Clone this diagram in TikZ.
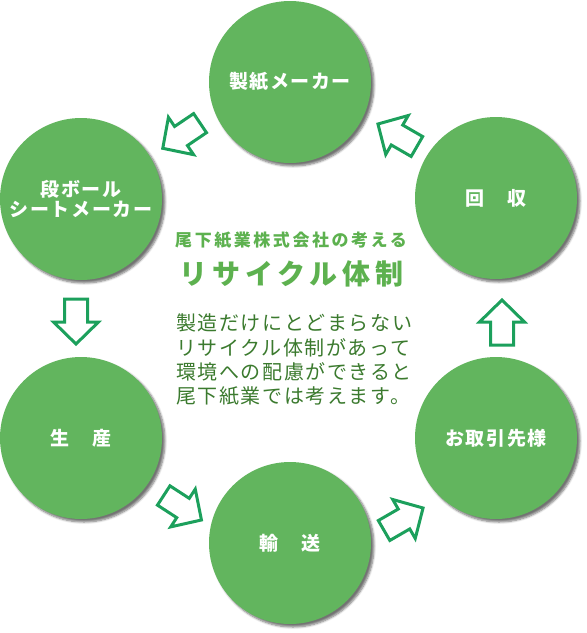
\documentclass[tikz,border=0pt]{standalone}
\usepackage{fontspec}
\setmainfont{Noto Sans CJK JP}
\newfontfamily\stagefont{Noto Sans CJK JP}[LetterSpace=8]
\newfontfamily\titlefont{Noto Sans CJK JP}[LetterSpace=15]
\newfontfamily\bigfont{Noto Sans CJK JP}[LetterSpace=18]
\newfontfamily\bodyfont{Noto Sans CJK JP}[LetterSpace=8]
\usetikzlibrary{shadows.blur}

\definecolor{circlegreen}{RGB}{98,181,94}
\definecolor{arrowgreen}{RGB}{28,160,92}
\definecolor{titlegreen}{RGB}{93,177,79}
\definecolor{textgreen}{RGB}{59,122,46}

\tikzset{
  stage/.style={circle, fill=circlegreen, minimum size=162pt, inner sep=0pt,
    text=white, align=center, font=\stagefont\bfseries\fontsize{19}{22}\selectfont,
    blur shadow={shadow xshift=3pt, shadow yshift=-3pt, shadow blur steps=6, shadow opacity=55}},
  arrowline/.style={draw=arrowgreen, fill=white, line width=3pt, line join=miter},
  pics/cyclearrow/.style={code={
    \draw[arrowline] (-23,-11.5) -- (0,-11.5) -- (0,-22.5) -- (22,0)
      -- (0,22.5) -- (0,11.5) -- (-23,11.5) -- cycle;}},
  bodytext/.style={anchor=west, inner sep=0pt, text=textgreen,
    font=\bodyfont\fontsize{20}{24}\selectfont},
}

\begin{document}
\begin{tikzpicture}[x=1pt, y=-1pt]
    \useasboundingbox (0,0) rectangle (587,633);
    % the six stages of the cycle
    \node[stage] (seishi) at (290,82) {製紙メーカー};
    \node[stage] (danboru) at (81,199) {段ボール\\[-2pt]シートメーカー};
    \node[stage] (seisan) at (81,438) {生　産};
    \node[stage] (yuso) at (290,543) {輸　送};
    \node[stage] (torihiki) at (496,438) {お取引先様};
    \node[stage] (kaishu) at (496,198) {回　収};
    % hollow arrows between the stages
    \pic[rotate=214] at (181,136) {cyclearrow};
    \pic[rotate=270] at (76,322) {cyclearrow};
    \pic[rotate=-33] at (183,508) {cyclearrow};
    \pic[rotate=30] at (404,519) {cyclearrow};
    \pic[rotate=90] at (502,322) {cyclearrow};
    \pic[rotate=150] at (397,135) {cyclearrow};
    % centre text
    \node[text=titlegreen, inner sep=0pt, font=\titlefont\bfseries\fontsize{17}{20}\selectfont]
      (title) at (291,240) {尾下紙業株式会社の考える};
    \node[text=titlegreen, inner sep=0pt, font=\bigfont\bfseries\fontsize{28}{32}\selectfont]
      (bigtitle) at (291.5,273.5) {リサイクル体制};
    \node[bodytext] (line1) at (176,323) {製造だけにとどまらない};
    \node[bodytext] (line2) at (176,348) {リサイクル体制があって};
    \node[bodytext] (line3) at (176,372) {環境への配慮ができると};
    \node[bodytext] (line4) at (176,396) {尾下紙業では考えます。};
\end{tikzpicture}
\end{document}
